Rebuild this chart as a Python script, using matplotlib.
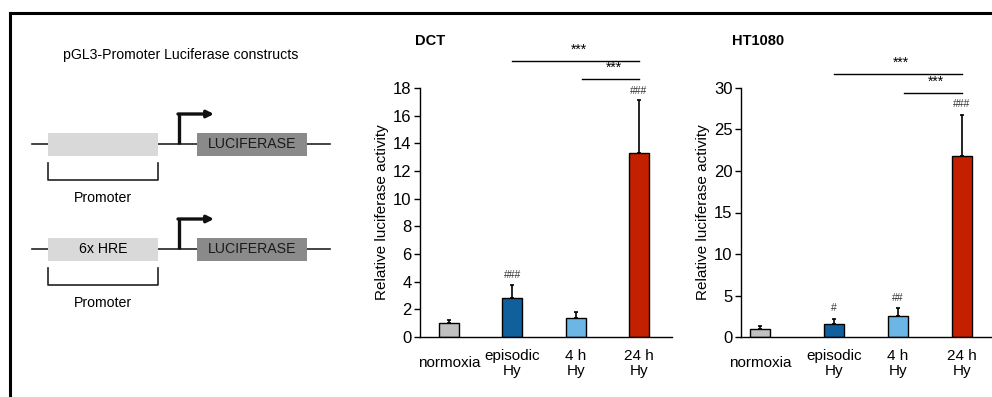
import matplotlib
matplotlib.use('Agg')
from matplotlib import pyplot as plt
from matplotlib.patches import Rectangle
import numpy as np

plt.rcParams['font.family'] = ['Liberation Sans', 'DejaVu Sans']

# Data
groups = ['normoxia', 'episodic\nHy', '4 h\nHy', '24 h\nHy']
colors = ['#c0c0c0', '#10609e', '#6cb6e6', '#c42000']

dct_mean = [1.0, 2.8, 1.35, 13.3]
dct_err = [0.25, 0.95, 0.45, 3.8]
dct_marks = ['', '###', '', '###']

ht_mean = [1.0, 1.6, 2.5, 21.8]
ht_err = [0.35, 0.6, 0.95, 5.0]
ht_marks = ['', '#', '##', '###']

# significance brackets: (from group, to group)
sig_pairs = [(1, 3), (2, 3)]

W, H = 992, 397
fig = plt.figure(figsize=(W / 100, H / 100), dpi=100)

# Schematic panel in pixel coordinates
ax0 = fig.add_axes([0, 0, 1, 1])
ax0.set_xlim(0, W)
ax0.set_ylim(H, 0)
ax0.axis('off')

# frame
ax0.plot([10, 10], [13, H], color='black', lw=2.2)
ax0.plot([10, W], [13, 13], color='black', lw=2.2)

ax0.text(181, 55, 'pGL3-Promoter Luciferase constructs', ha='center', va='center', fontsize=10.2)

for y, label in [(144, ''), (249, '6x HRE')]:
    ax0.plot([32, 330], [y, y], color='#222222', lw=1.2, zorder=1)
    ax0.add_patch(Rectangle((48, y - 11), 110, 23, facecolor='#d9d9d9', edgecolor='none', zorder=2))
    ax0.text(103, y, label, ha='center', va='center', fontsize=10.2, zorder=3)
    ax0.add_patch(Rectangle((197, y - 11), 110, 23, facecolor='#8a8a8a', edgecolor='none', zorder=2))
    ax0.text(252, y, 'LUCIFERASE', ha='center', va='center', fontsize=10.2, color='#1a1a1a', zorder=3)
    # transcription start arrow
    ax0.plot([179, 179], [y, y - 30], color='#111111', lw=2.4, solid_capstyle='butt')
    ax0.annotate('', xy=(214, y - 30), xytext=(178, y - 30),
                 arrowprops=dict(arrowstyle='-|>', color='#111111', lw=2.4, mutation_scale=10, shrinkA=0, shrinkB=0))
    # bracket
    ax0.plot([48, 48, 158, 158], [y + 19, y + 36, y + 36, y + 19], color='#222222', lw=1.2)
    ax0.text(103, y + 54, 'Promoter', ha='center', va='center', fontsize=10.2)


def bar_panel(rect, means, errs, marks, ymax, yticks, xpos, xlim, title, title_x, mark_off, sig_y):
    ax = fig.add_axes(rect)
    ax.bar(xpos, means, width=0.32, color=colors, edgecolor='black', linewidth=1.0, zorder=2)
    ax.errorbar(xpos, means, yerr=[np.zeros(len(means)), errs], fmt='none', ecolor='black',
                elinewidth=1.2, capsize=1.5, capthick=1.2, zorder=1)
    for x, m, e, t in zip(xpos, means, errs, marks):
        if t:
            ax.text(x, m + e + mark_off, t, ha='center', va='bottom', fontsize=7.5, color='#333333')
    ax.set_ylim(0, ymax)
    ax.set_xlim(*xlim)
    ax.set_yticks(yticks)
    ax.set_xticks(xpos)
    ax.set_xticklabels(groups, fontsize=11, linespacing=1.15, va='center')
    ax.tick_params(axis='x', length=0, pad=19)
    ax.tick_params(axis='y', labelsize=12, length=4, width=1, direction='out', pad=2)
    for s in ['top', 'right']:
        ax.spines[s].set_visible(False)
    ax.spines['left'].set_linewidth(1.0)
    ax.spines['bottom'].set_linewidth(1.0)
    ax.set_ylabel('Relative luciferase activity', fontsize=11, labelpad=3)
    ax.text(title_x, 1.19, title, transform=ax.transAxes, fontsize=10.5, fontweight='bold', va='center')
    for (a, b), yy in zip(sig_pairs, sig_y):
        x0 = xpos[a] if a == 1 else xpos[a] + 0.1
        ax.plot([x0, xpos[b]], [yy, yy], color='black', lw=1.0, clip_on=False)
        ax.text((x0 + xpos[b]) / 2 + 0.05, yy + ymax * 0.018, '***', ha='center', va='bottom',
                fontsize=10, clip_on=False)
    return ax


pos = [0, 1, 2, 3]
bar_panel([420 / W, 60 / H, 252 / W, 249 / H], dct_mean, dct_err, dct_marks, 18,
          range(0, 19, 2), pos, (-0.458, 3.52), 'DCT', -0.02, 0.35, [19.96, 18.65])
bar_panel([741 / W, 60 / H, 251 / W, 249 / H], ht_mean, ht_err, ht_marks, 30,
          range(0, 31, 5), [-0.15, 1, 2, 3], (-0.45, 3.47), 'HT1080', -0.036, 0.7,
          [31.7, 29.4])

fig.savefig('out.png', dpi=100)
